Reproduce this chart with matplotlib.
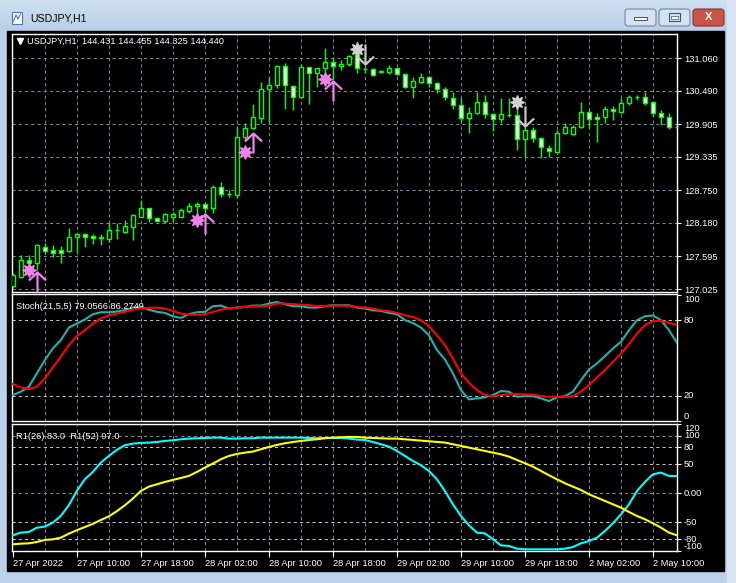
import numpy as np
import matplotlib.pyplot as plt
from matplotlib.path import Path
from matplotlib.patches import Rectangle, FancyBboxPatch
from matplotlib.colors import LinearSegmentedColormap

plt.rcParams['font.family'] = ['Liberation Sans', 'DejaVu Sans']

W, H = 736, 583

# ---- USDJPY H1 candles ----
opens = [127.077, 127.241, 127.532, 127.474, 127.765, 127.707, 127.707, 127.695, 127.929, 127.987,
         127.952, 127.923, 127.900, 128.051, 128.028, 128.115, 128.290, 128.436, 128.261, 128.220,
         128.290, 128.290, 128.395, 128.477, 128.512, 128.436, 128.815, 128.681, 128.669, 129.689,
         129.835, 130.010, 130.517, 130.593, 130.925, 130.581, 130.377, 130.902, 130.797, 130.884,
         131.001, 130.925, 130.960, 131.135, 130.879, 130.867, 130.838, 130.826, 130.885, 130.785,
         130.552, 130.651, 130.727, 130.622, 130.517, 130.372, 130.237, 130.010, 130.098, 130.296,
         130.080, 129.993, 130.074, 130.068, 129.643, 129.806, 129.660, 129.485, 129.427, 129.748,
         129.730, 129.853, 130.127, 130.039, 130.039, 130.167, 130.127, 130.272, 130.383, 130.389,
         130.290, 130.098, 130.028, 129.864]
closes = [127.270, 127.532, 127.474, 127.795, 127.695, 127.649, 127.649, 127.929, 127.987, 127.940,
          127.911, 127.929, 128.057, 128.057, 128.127, 128.319, 128.436, 128.261, 128.220, 128.337,
          128.337, 128.407, 128.477, 128.512, 128.436, 128.815, 128.687, 128.687, 129.689, 129.835,
          130.027, 130.517, 130.593, 130.925, 130.593, 130.377, 130.902, 130.797, 130.884, 131.001,
          130.925, 130.960, 131.100, 130.885, 130.873, 130.768, 130.826, 130.885, 130.780, 130.552,
          130.663, 130.727, 130.634, 130.517, 130.377, 130.237, 130.010, 130.098, 130.296, 130.080,
          129.993, 130.080, 130.068, 129.643, 129.806, 129.660, 129.503, 129.439, 129.748, 129.853,
          129.853, 130.115, 129.993, 129.993, 130.167, 130.138, 130.272, 130.377, 130.389, 130.284,
          130.098, 130.028, 129.853, 129.864]
highs = [127.299, 127.620, 127.620, 127.812, 127.824, 127.795, 127.777, 128.086, 128.010, 128.010,
         127.987, 127.987, 128.203, 128.174, 128.232, 128.337, 128.582, 128.447, 128.290, 128.360,
         128.378, 128.436, 128.523, 128.553, 128.535, 128.844, 128.902, 128.757, 129.876, 129.923,
         130.261, 130.651, 130.727, 130.943, 130.984, 130.593, 130.960, 130.914, 130.884, 131.234,
         131.077, 131.030, 131.118, 131.250, 130.925, 130.885, 130.855, 130.943, 130.896, 130.809,
         130.739, 130.809, 130.750, 130.651, 130.552, 130.476, 130.360, 130.202, 130.476, 130.418,
         130.098, 130.360, 130.360, 130.214, 129.864, 129.864, 129.689, 129.544, 129.806, 129.923,
         129.893, 130.290, 130.156, 130.098, 130.226, 130.226, 130.360, 130.418, 130.418, 130.476,
         130.313, 130.156, 130.098, 129.923]
lows = [127.054, 127.212, 127.357, 127.357, 127.660, 127.591, 127.474, 127.678, 127.678, 127.765,
        127.812, 127.795, 127.853, 127.900, 128.010, 127.882, 128.278, 128.203, 128.203, 128.174,
        128.203, 128.290, 128.348, 128.290, 128.348, 128.348, 128.640, 128.628, 128.611, 129.631,
        129.818, 129.923, 129.923, 130.535, 130.167, 130.156, 130.360, 130.261, 130.564, 130.651,
        130.680, 130.855, 130.925, 130.797, 130.809, 130.750, 130.809, 130.785, 130.768, 130.535,
        130.360, 130.622, 130.564, 130.447, 130.331, 130.167, 129.969, 129.748, 130.086, 130.022,
        129.794, 129.934, 130.028, 129.456, 129.340, 129.602, 129.310, 129.340, 129.410, 129.736,
        129.719, 129.835, 129.835, 129.602, 129.934, 129.981, 130.109, 130.243, 130.331, 130.243,
        130.051, 129.893, 129.818, 129.835]

# signal markers: bar index and price
buy_star_bars = [2, 23, 29, 39]
buy_star_prices = [127.357, 128.232, 129.427, 130.693]
buy_arrow_bars = [3, 24, 30, 40]
buy_arrow_prices = [127.150, 128.167, 129.573, 130.488]
sell_star_bars = [43, 63]
sell_star_prices = [131.217, 130.301]
sell_arrow_bars = [44, 64]
sell_arrow_prices = [131.135, 130.051]

# ---- Stochastic (21,5,5) ----
stoch_main = [20.6, 23.3, 27.2, 37.8, 48.4, 57.7, 64.3, 74.3, 77.5, 80.7,
              84.9, 86.5, 86.5, 87.0, 88.1, 90.2, 90.7, 88.6, 86.8, 86.0,
              83.3, 82.0, 84.9, 86.5, 86.8, 91.3, 91.8, 89.4, 90.2, 90.7,
              91.8, 91.8, 93.4, 94.7, 92.9, 91.3, 91.3, 90.2, 90.2, 91.3,
              92.1, 92.1, 92.0, 90.2, 89.4, 88.1, 87.6, 86.0, 84.9, 80.2,
              78.0, 74.3, 68.3, 56.4, 49.0, 37.8, 24.6, 17.2, 18.0, 18.8,
              20.6, 23.8, 23.3, 19.3, 19.8, 19.8, 18.0, 15.9, 18.8, 19.8,
              23.3, 32.5, 41.0, 45.8, 51.6, 57.7, 63.0, 72.2, 80.2, 83.3,
              83.9, 80.2, 72.2, 62.2]
stoch_signal = [29.4, 26.7, 25.4, 27.2, 33.8, 42.6, 51.1, 60.3, 67.5, 72.2,
                77.5, 81.5, 84.1, 85.4, 86.8, 88.6, 89.4, 90.0, 90.2, 89.4,
                87.6, 85.4, 84.6, 84.6, 84.9, 86.8, 88.6, 89.4, 90.2, 90.7,
                91.3, 91.3, 91.8, 93.4, 93.4, 92.9, 92.6, 92.1, 91.5, 91.5,
                91.8, 91.8, 91.5, 90.7, 90.2, 89.4, 88.1, 87.3, 86.0, 84.1,
                82.8, 80.2, 75.4, 68.3, 60.3, 49.7, 37.8, 30.4, 24.6, 20.6,
                19.8, 20.6, 21.4, 21.4, 21.1, 21.1, 19.8, 19.3, 19.3, 19.3,
                19.8, 23.3, 28.6, 34.6, 40.5, 47.1, 53.7, 61.1, 69.6, 76.2,
                79.6, 79.6, 78.0, 76.5]

# ---- R1(26) / R1(52) ----
r1_26 = [-72.8, -68.2, -67.1, -59.6, -57.8, -50.9, -39.3, -20.8, 4.0, 24.2,
         36.9, 53.1, 64.7, 75.1, 83.1, 86.0, 87.2, 87.8, 88.9, 90.6,
         91.8, 93.5, 94.7, 95.3, 95.8, 96.4, 96.4, 94.7, 94.7, 95.3,
         95.3, 96.4, 96.4, 96.4, 96.4, 96.4, 96.4, 95.8, 95.3, 95.8,
         95.8, 96.0, 94.7, 93.0, 92.4, 88.9, 84.9, 80.8, 73.3, 64.7,
         56.0, 48.5, 38.7, 24.2, 4.0, -19.1, -39.3, -55.5, -68.2, -69.4,
         -79.8, -90.2, -91.3, -95.9, -97.1, -97.1, -97.1, -97.1, -97.1, -96.0,
         -93.1, -86.7, -82.7, -76.9, -65.3, -52.0, -36.4, -19.1, 4.0, 19.6,
         32.9, 35.8, 30.0, 30.0]
r1_52 = [-88.4, -87.3, -86.7, -84.4, -80.9, -79.8, -76.9, -70.0, -64.0, -58.5,
         -53.0, -46.3, -40.0, -31.0, -20.8, -9.3, 4.0, 11.5, 15.5, 19.6,
         23.1, 26.5, 30.0, 36.9, 44.4, 51.4, 58.9, 64.7, 68.1, 70.4,
         72.2, 76.2, 80.2, 83.7, 86.6, 88.9, 90.6, 92.4, 93.5, 95.3,
         96.4, 97.0, 97.6, 97.6, 96.4, 95.8, 95.3, 94.7, 94.7, 93.5,
         92.4, 91.2, 90.1, 88.9, 87.8, 84.9, 82.0, 79.1, 76.2, 73.3,
         70.4, 67.5, 63.5, 57.7, 52.0, 46.2, 38.7, 31.2, 24.2, 17.3,
         11.5, 5.7, -1.8, -7.6, -13.3, -19.1, -24.9, -32.4, -39.3, -45.1,
         -52.0, -59.6, -68.2, -72.8]

price_levels = [131.060, 130.490, 129.905, 129.335, 128.750, 128.180, 127.595, 127.025]
stoch_levels = [80, 20]
r1_levels = [100, 80, 50, 0, -50, -80]
r1_ticks = [120, 100, 80, 50, 0, -50, -80, -100]
r1_ticklabels = ['120', '100', '80', '50', '0.00', '-50', '-80', '-100']
time_labels = ['27 Apr 2022', '27 Apr 10:00', '27 Apr 18:00', '28 Apr 02:00', '28 Apr 10:00',
               '28 Apr 18:00', '29 Apr 02:00', '29 Apr 10:00', '29 Apr 18:00', '2 May 02:00',
               '2 May 10:00']

GRID = '#778899'
LIME = '#00ff00'
FS = 6.7

fig = plt.figure(figsize=(W / 100, H / 100), dpi=100)
fig.patch.set_facecolor('#bcd2ea')

# window chrome drawn in pixel coordinates
chrome = fig.add_axes([0, 0, 1, 1], zorder=0)
chrome.set_xlim(0, W)
chrome.set_ylim(H, 0)
chrome.axis('off')
grad = LinearSegmentedColormap.from_list('tb', ['#cfe0f2', '#b8cfe8'])
chrome.imshow(np.linspace(0, 1, 32).reshape(-1, 1), extent=(0, W, 31, 0), aspect='auto', cmap=grad)
chrome.set_xlim(0, W)
chrome.set_ylim(H, 0)
chrome.add_patch(Rectangle((0, 31), 7, H, color='#bcd2ea'))
chrome.add_patch(Rectangle((727, 0), 9, H, color='#d6e4f3'))
chrome.add_patch(Rectangle((7, 31), 717, 540, color='black'))
chrome.add_patch(Rectangle((12, 12), 10, 12, fc='white', ec='#4a78b5', lw=0.8))
chrome.plot([13.5, 16, 18, 20.5], [21, 15, 19, 14], color='#4a78b5', lw=0.8)
chrome.text(30, 18.5, 'USDJPY,H1', fontsize=7.6, va='center', ha='left', color='black')
for bx in [625, 659]:
    chrome.add_patch(FancyBboxPatch((bx, 9), 31, 17, boxstyle='round,pad=0,rounding_size=3',
                                    fc='#d5e2f1', ec='#6f88a8', lw=0.8))
chrome.add_patch(Rectangle((634, 17), 13, 3, fc='white', ec='#44546a', lw=0.7))
chrome.add_patch(Rectangle((669, 13), 11, 8, fc='none', ec='#44546a', lw=0.8))
chrome.add_patch(Rectangle((671, 15.5), 7, 3, fc='white', ec='#44546a', lw=0.5))
chrome.add_patch(FancyBboxPatch((693, 9), 31, 17, boxstyle='round,pad=0,rounding_size=3',
                                fc='#c9554b', ec='#8b2f2a', lw=0.8))
chrome.text(708.5, 17.5, 'X', fontsize=8, fontweight='bold', color='white', ha='center', va='center')


def px_axes(x0, y0, x1, y1):
    return fig.add_axes([x0 / W, 1 - y1 / H, (x1 - x0) / W, (y1 - y0) / H], zorder=2)


def style_panel(ax):
    ax.set_facecolor('black')
    for s in ax.spines.values():
        s.set_color('white')
        s.set_linewidth(1.0)
    ax.set_xlim(-0.1, 83.0)
    ax.yaxis.tick_right()
    ax.tick_params(axis='y', colors='white', labelsize=FS, length=3, width=0.8, pad=2)
    ax.tick_params(axis='x', bottom=False, labelbottom=False)
    for i in range(4, 84, 4):
        ax.axvline(i, color=GRID, lw=0.75, ls=(0, (3, 3)), zorder=1)


idx = np.arange(len(opens))

# ---- main price panel ----
ax1 = px_axes(12, 34, 677, 292)
style_panel(ax1)
ax1.set_ylim(126.973, 131.485)
ax1.set_yticks(price_levels)
ax1.set_yticklabels(['%.3f' % p for p in price_levels])
for p in price_levels:
    ax1.axhline(p, color=GRID, lw=0.75, ls=(0, (3, 3)), zorder=1)

o = np.array(opens)
c = np.array(closes)
fills = ['black' if cc > oo else 'white' for oo, cc in zip(o, c)]
ax1.vlines(idx, lows, highs, color=LIME, lw=1.0, zorder=2)
ax1.bar(idx, np.abs(c - o), bottom=np.minimum(o, c), width=0.55, color=fills,
        edgecolor=LIME, linewidth=1.0, zorder=3)

up_arrow = Path([(0, -1), (0, 1), (-0.85, 0.2), (0, 1), (0.85, 0.2)],
                [Path.MOVETO, Path.LINETO, Path.MOVETO, Path.LINETO, Path.LINETO])
down_arrow = Path([(0, 1), (0, -1), (-0.85, -0.2), (0, -1), (0.85, -0.2)],
                  [Path.MOVETO, Path.LINETO, Path.MOVETO, Path.LINETO, Path.LINETO])
ax1.plot(buy_arrow_bars, buy_arrow_prices, ls='none', marker=up_arrow, ms=14.5,
         mfc='none', mec='#ee82ee', mew=1.6, zorder=5)
ax1.plot(sell_arrow_bars, sell_arrow_prices, ls='none', marker=down_arrow, ms=14.5,
         mfc='none', mec='#c8c8c8', mew=1.6, zorder=5)
ax1.plot(buy_star_bars, buy_star_prices, ls='none', marker=(8, 1, 0), ms=10,
         color='#ee82ee', zorder=6)
ax1.plot(sell_star_bars, sell_star_prices, ls='none', marker=(8, 1, 0), ms=10,
         color='#d3d3d3', zorder=6)

ax1.plot([0.012], [0.972], transform=ax1.transAxes, marker='v', ms=4, color='white', ls='none')
ax1.text(0.023, 0.972, 'USDJPY,H1  144.431 144.455 144.325 144.440', transform=ax1.transAxes,
         color='white', fontsize=FS, va='center', ha='left')

# ---- stochastic panel ----
ax2 = px_axes(12, 294, 677, 421)
style_panel(ax2)
ax2.set_ylim(0, 101)
ax2.set_yticks([100, 80, 20, 0])
ax2.set_yticklabels(['100', '80', '20', '0'])
for lab, va in zip(ax2.get_yticklabels(), ['top', 'center', 'center', 'bottom']):
    lab.set_va(va)
for lv in stoch_levels:
    ax2.axhline(lv, color='#c0c0c0', lw=0.75, ls=(0, (3, 3)), zorder=1)
ax2.plot(idx, stoch_main, color='#20b2aa', lw=1.5, zorder=3)
ax2.plot(idx, stoch_signal, color='#ff0000', lw=1.5, zorder=4)
ax2.text(0.006, 0.9, 'Stoch(21,5,5) 79.0566 86.2749', transform=ax2.transAxes,
         color='white', fontsize=FS, va='center', ha='left')

# ---- R1 panel ----
ax3 = px_axes(12, 424, 677, 551)
style_panel(ax3)
ax3.set_ylim(-100, 120)
ax3.set_yticks(r1_ticks)
ax3.set_yticklabels(r1_ticklabels)
for lab, t in zip(ax3.get_yticklabels(), r1_ticks):
    lab.set_va('top' if t == 120 else ('bottom' if t == -100 else 'center'))
for lv in r1_levels:
    ax3.axhline(lv, color='#c0c0c0' if lv in (80, -80, 50, -50) else GRID, lw=0.75,
                ls=(0, (3, 3)), zorder=1)
ax3.plot(idx, r1_26, color='#00ffff', lw=1.5, zorder=3)
ax3.plot(idx, r1_52, color='#ffff00', lw=1.5, zorder=4)
ax3.text(0.006, 0.9, 'R1(26) 83.0  R1(52) 97.0', transform=ax3.transAxes,
         color='white', fontsize=FS, va='center', ha='left')
ax3.set_xticks(range(0, 84, 8))
ax3.set_xticklabels(time_labels, ha='left')
ax3.tick_params(axis='x', bottom=True, labelbottom=True, colors='white', labelsize=FS,
                length=4, width=0.8, pad=1.5)

fig.savefig('out.png', dpi=100, facecolor=fig.get_facecolor())
